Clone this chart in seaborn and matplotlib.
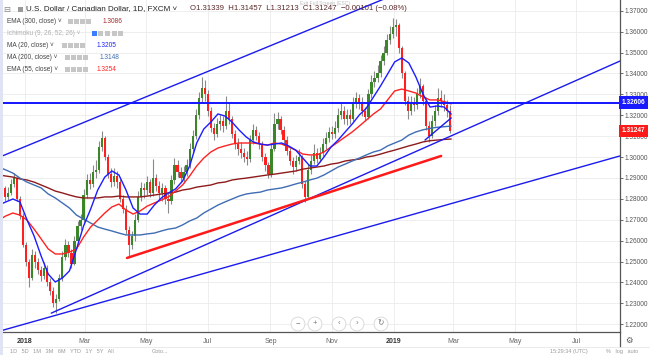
import numpy as np
import pandas as pd
import matplotlib
matplotlib.use("Agg")
import matplotlib.pyplot as plt
import matplotlib.transforms as mtransforms
from matplotlib.patches import Rectangle
from matplotlib.lines import Line2D
import seaborn as sns

# USD/CAD candles, one candle per 3 calendar days, 2017-12-06 .. 2019-02-26
bar_start = "2017-12-06"
first_open = 1.2830
close_px = [
    1.2840, 1.2850, 1.2810, 1.2830, 1.2870, 1.2900, 1.2800, 1.2720, 1.2580, 1.2500,
    1.2420, 1.2530, 1.2500, 1.2460, 1.2430, 1.2470, 1.2400, 1.2360, 1.2300, 1.2320,
    1.2420, 1.2520, 1.2580, 1.2540, 1.2490, 1.2600, 1.2670, 1.2700, 1.2820, 1.2890,
    1.2870, 1.2930, 1.2940, 1.3050, 1.3090, 1.3000, 1.2920, 1.2880, 1.2910, 1.2880,
    1.2800, 1.2750, 1.2650, 1.2580, 1.2620, 1.2700, 1.2810, 1.2850, 1.2840, 1.2880,
    1.2830, 1.2900, 1.2860, 1.2830, 1.2850, 1.2800, 1.2790, 1.2890, 1.2960, 1.2930,
    1.2900, 1.2930, 1.2960, 1.3040, 1.3100, 1.3200, 1.3280, 1.3330, 1.3300, 1.3220,
    1.3140, 1.3110, 1.3160, 1.3170, 1.3150, 1.3220, 1.3180, 1.3110, 1.3060, 1.3040,
    1.3020, 1.3000, 1.2990, 1.3080, 1.3130, 1.3100, 1.3060, 1.3000, 1.2960, 1.2920,
    1.3040, 1.3160, 1.3180, 1.3130, 1.3080, 1.3030, 1.2980, 1.2950, 1.2980, 1.3000,
    1.2870, 1.2810, 1.2940, 1.2980, 1.3020, 1.2990, 1.3020, 1.3060, 1.3090, 1.3120,
    1.3110, 1.3140, 1.3200, 1.3220, 1.3180, 1.3200, 1.3180, 1.3260, 1.3280, 1.3260,
    1.3220, 1.3190, 1.3300, 1.3360, 1.3380, 1.3400, 1.3460, 1.3500, 1.3560, 1.3590,
    1.3620, 1.3630, 1.3520, 1.3400, 1.3270, 1.3220, 1.3260, 1.3250, 1.3300, 1.3340,
    1.3270, 1.3150, 1.3100, 1.3170, 1.3220, 1.3280, 1.3270, 1.3250, 1.3220, 1.31247,
]
high_px = [
    1.2868, 1.2880, 1.2862, 1.2858, 1.2895, 1.2922, 1.2905, 1.2812, 1.2730, 1.2592,
    1.2512, 1.2560, 1.2548, 1.2515, 1.2480, 1.2500, 1.2482, 1.2420, 1.2378, 1.2345,
    1.2440, 1.2548, 1.2610, 1.2598, 1.2560, 1.2622, 1.2695, 1.2728, 1.2848, 1.2918,
    1.2925, 1.2962, 1.2985, 1.3075, 1.3125, 1.3100, 1.3012, 1.2945, 1.2945, 1.2932,
    1.2895, 1.2820, 1.2768, 1.2668, 1.2645, 1.2725, 1.2835, 1.2880, 1.2878, 1.2910,
    1.2895, 1.2990, 1.2918, 1.2885, 1.2878, 1.2868, 1.2830, 1.2915, 1.2995, 1.2985,
    1.2950, 1.2958, 1.2990, 1.3068, 1.3130, 1.3230, 1.3310, 1.3385, 1.3370, 1.3320,
    1.3240, 1.3165, 1.3185, 1.3200, 1.3195, 1.3290, 1.3265, 1.3195, 1.3128, 1.3090,
    1.3070, 1.3045, 1.3030, 1.3105, 1.3160, 1.3150, 1.3118, 1.3075, 1.3020, 1.2975,
    1.3065, 1.3210, 1.3215, 1.3195, 1.3148, 1.3100, 1.3045, 1.3000, 1.3010, 1.3040,
    1.3010, 1.2885, 1.2965, 1.3010, 1.3060, 1.3045, 1.3050, 1.3090, 1.3120, 1.3145,
    1.3150, 1.3170, 1.3235, 1.3262, 1.3245, 1.3228, 1.3230, 1.3285, 1.3310, 1.3300,
    1.3285, 1.3240, 1.3325, 1.3390, 1.3410, 1.3440, 1.3490, 1.3530, 1.3590, 1.3625,
    1.3665, 1.3662, 1.3640, 1.3530, 1.3410, 1.3290, 1.3290, 1.3285, 1.3330, 1.3380,
    1.3350, 1.3285, 1.3170, 1.3200, 1.3250, 1.3330, 1.3320, 1.3300, 1.3275, 1.3250,
]
low_px = [
    1.2808, 1.2825, 1.2790, 1.2795, 1.2820, 1.2858, 1.2788, 1.2705, 1.2568, 1.2478,
    1.2378, 1.2410, 1.2470, 1.2440, 1.2405, 1.2418, 1.2385, 1.2340, 1.2280, 1.2255,
    1.2310, 1.2405, 1.2505, 1.2520, 1.2468, 1.2485, 1.2585, 1.2652, 1.2690, 1.2805,
    1.2845, 1.2855, 1.2900, 1.2925, 1.3030, 1.2985, 1.2900, 1.2855, 1.2862, 1.2850,
    1.2785, 1.2730, 1.2632, 1.2528, 1.2560, 1.2600, 1.2690, 1.2790, 1.2805, 1.2820,
    1.2808, 1.2815, 1.2838, 1.2800, 1.2790, 1.2775, 1.2730, 1.2775, 1.2870, 1.2905,
    1.2880, 1.2875, 1.2910, 1.2945, 1.3020, 1.3085, 1.3180, 1.3260, 1.3270, 1.3195,
    1.3120, 1.3080, 1.3095, 1.3130, 1.3120, 1.3135, 1.3160, 1.3090, 1.3040, 1.3010,
    1.2995, 1.2975, 1.2960, 1.2975, 1.3060, 1.3080, 1.3040, 1.2980, 1.2935, 1.2900,
    1.2905, 1.3030, 1.3135, 1.3110, 1.3060, 1.3010, 1.2960, 1.2920, 1.2935, 1.2965,
    1.2850, 1.2785, 1.2800, 1.2920, 1.2965, 1.2970, 1.2975, 1.3005, 1.3040, 1.3070,
    1.3085, 1.3090, 1.3120, 1.3180, 1.3160, 1.3155, 1.3160, 1.3170, 1.3235, 1.3230,
    1.3195, 1.3170, 1.3180, 1.3280, 1.3335, 1.3360, 1.3385, 1.3440, 1.3490, 1.3540,
    1.3570, 1.3580, 1.3500, 1.3380, 1.3250, 1.3180, 1.3200, 1.3220, 1.3230, 1.3280,
    1.3250, 1.3130, 1.3070, 1.3090, 1.3150, 1.3200, 1.3240, 1.3220, 1.3190, 1.3115,
]

# indicator lines, read weekly from 2017-12-06
ma_start = "2017-12-06"
ma20 = [
    1.2770, 1.2785, 1.2799, 1.2785, 1.2699, 1.2622, 1.2526, 1.2440, 1.2402, 1.2421,
    1.2455, 1.2560, 1.2670, 1.2751, 1.2842, 1.2904, 1.2933, 1.2914, 1.2842, 1.2756,
    1.2727, 1.2727, 1.2770, 1.2804, 1.2828, 1.2847, 1.2885, 1.2957, 1.3067, 1.3134,
    1.3167, 1.3206, 1.3196, 1.3167, 1.3129, 1.3096, 1.3072, 1.3062, 1.3057, 1.3062,
    1.3067, 1.3053, 1.3033, 1.2995, 1.2957, 1.2957, 1.3000, 1.3048, 1.3081, 1.3120,
    1.3158, 1.3201, 1.3234, 1.3287, 1.3340, 1.3397, 1.3455, 1.3474, 1.3450, 1.3383,
    1.3301, 1.3239, 1.3244, 1.3239, 1.3205,
]
ema55 = [
    1.2698, 1.2718, 1.2732, 1.2722, 1.2698, 1.2655, 1.2608, 1.2560, 1.2536, 1.2536,
    1.2545, 1.2560, 1.2617, 1.2665, 1.2698, 1.2732, 1.2761, 1.2775, 1.2746, 1.2727,
    1.2742, 1.2765, 1.2780, 1.2794, 1.2809, 1.2837, 1.2866, 1.2909, 1.2957, 1.2995,
    1.3024, 1.3043, 1.3053, 1.3062, 1.3067, 1.3067, 1.3067, 1.3062, 1.3057, 1.3067,
    1.3062, 1.3048, 1.3033, 1.3014, 1.3010, 1.3010, 1.3024, 1.3048, 1.3072, 1.3096,
    1.3120, 1.3148, 1.3177, 1.3206, 1.3230, 1.3273, 1.3316, 1.3325, 1.3316, 1.3306,
    1.3287, 1.3273, 1.3273, 1.3265, 1.3254,
]
ma200 = [
    1.2952, 1.2938, 1.2923, 1.2899, 1.2880, 1.2866, 1.2852, 1.2823, 1.2804, 1.2780,
    1.2756, 1.2722, 1.2703, 1.2684, 1.2665, 1.2655, 1.2646, 1.2636, 1.2627, 1.2627,
    1.2627, 1.2632, 1.2636, 1.2646, 1.2655, 1.2660, 1.2675, 1.2694, 1.2708, 1.2732,
    1.2751, 1.2770, 1.2785, 1.2799, 1.2813, 1.2823, 1.2828, 1.2832, 1.2842, 1.2847,
    1.2852, 1.2861, 1.2871, 1.2880, 1.2890, 1.2899, 1.2914, 1.2933, 1.2952, 1.2966,
    1.2981, 1.2995, 1.3010, 1.3024, 1.3033, 1.3053, 1.3067, 1.3081, 1.3105, 1.3120,
    1.3130, 1.3137, 1.3142, 1.3145, 1.3148,
]
ema300 = [
    1.2914, 1.2909, 1.2904, 1.2895, 1.2890, 1.2880, 1.2866, 1.2852, 1.2837, 1.2828,
    1.2818, 1.2809, 1.2804, 1.2804, 1.2804, 1.2809, 1.2809, 1.2813, 1.2809, 1.2809,
    1.2809, 1.2813, 1.2818, 1.2823, 1.2828, 1.2832, 1.2842, 1.2847, 1.2856, 1.2861,
    1.2866, 1.2876, 1.2880, 1.2890, 1.2895, 1.2899, 1.2904, 1.2909, 1.2914, 1.2918,
    1.2923, 1.2928, 1.2933, 1.2942, 1.2947, 1.2952, 1.2957, 1.2966, 1.2971, 1.2981,
    1.2986, 1.2990, 1.3000, 1.3005, 1.3014, 1.3024, 1.3033, 1.3043, 1.3053, 1.3062,
    1.3072, 1.3078, 1.3081, 1.3084, 1.3086,
]

# hand-drawn trend lines (date, price)
trend_upper = [("2017-12-07", 1.3000), ("2018-12-28", 1.3767)]
trend_mid = [("2018-01-27", 1.2253), ("2019-08-13", 1.3459)]
trend_low = [("2017-12-07", 1.2167), ("2019-08-13", 1.3005)]
trend_red = [("2018-04-12", 1.2517), ("2019-02-17", 1.3005)]
trend_short = [("2019-02-01", 1.3081), ("2019-02-27", 1.3187)]
hline_level = 1.32606
last_price = 1.31247

x_ticks = ["2018-01-01", "2018-03-01", "2018-05-01", "2018-07-01", "2018-09-01",
           "2018-11-01", "2019-01-01", "2019-03-01", "2019-05-01", "2019-07-01"]
x_labels = ["2018", "Mar", "May", "Jul", "Sep", "Nov", "2019", "Mar", "May", "Jul"]
y_ticks = [1.22, 1.23, 1.24, 1.25, 1.26, 1.27, 1.28, 1.29, 1.30,
           1.31, 1.32, 1.33, 1.34, 1.35, 1.36, 1.37]

sns.set_style("white")
plt.rcParams["font.family"] = ["Liberation Sans", "DejaVu Sans"]

W, H = 650, 355
fig = plt.figure(figsize=(W / 100, H / 100), dpi=100)
ax = fig.add_axes([0, 1 - 332 / H, 620 / W, 332 / H])


def fx(px):
    return px / W


def fy(py):
    return 1 - py / H


# candles
dates = pd.date_range(bar_start, periods=len(close_px), freq="3D")
c = np.array(close_px)
o = np.array([first_open] + close_px[:-1])
up = c >= o
ax.vlines(dates, low_px, high_px, color="#8a8a8a", lw=0.8, zorder=2)
ax.bar(dates, np.maximum(np.abs(c - o), 0.0004), bottom=np.minimum(o, c), width=2.2,
       color=np.where(up, "#3b8629", "#ff1f1f"), lw=0, zorder=3)

# moving averages
ma = pd.DataFrame({"date": pd.date_range(ma_start, periods=len(ma20), freq="7D"),
                   "ema300": ema300, "ma200": ma200, "ema55": ema55, "ma20": ma20})
for col, color in [("ema300", "#8e1b1b"), ("ma200", "#3f6db3"),
                   ("ema55", "#ff2222"), ("ma20", "#1c1cff")]:
    sns.lineplot(data=ma, x="date", y=col, ax=ax, color=color, lw=1.0, zorder=4)


def tline(pts, color, lw):
    ax.plot(pd.to_datetime([p[0] for p in pts]), [p[1] for p in pts],
            color=color, lw=lw, zorder=5)


tline(trend_upper, "#1a1aee", 1.0)
tline(trend_mid, "#1a1aee", 1.0)
tline(trend_low, "#1a1aee", 1.0)
tline(trend_short, "#1a1aee", 1.0)
tline(trend_red, "#ff1a1a", 1.8)
ax.axhline(hline_level, color="#1414ff", lw=1.4, zorder=5)

ax.set_xlim(pd.Timestamp("2017-12-07 06:00"), pd.Timestamp("2019-08-13 02:00"))
ax.set_ylim(1.21627, 1.37512)
ax.set_xlabel("")
ax.set_ylabel("")

ax.set_yticks(y_ticks)
ax.set_yticklabels([f"{t:.5f}" for t in y_ticks])
ax.tick_params(axis="y", left=False, right=True, labelleft=False, labelright=True,
               length=2.5, width=0.6, color="#555555", labelcolor="#555555",
               labelsize=4.7, pad=1)
ax.set_xticks(pd.to_datetime(x_ticks))
ax.set_xticklabels(x_labels)
ax.tick_params(axis="x", length=0, labelsize=5, labelcolor="#666666", pad=4.5)
for lab in ax.get_xticklabels():
    if lab.get_text() in ("2018", "2019"):
        lab.set_fontweight("bold")
        lab.set_color("#333333")

ax.grid(True, color="#ebebeb", lw=0.6)
ax.set_axisbelow(True)
for s in ["top", "left"]:
    ax.spines[s].set_visible(False)
for s in ["right", "bottom"]:
    ax.spines[s].set_color("#555555")
    ax.spines[s].set_linewidth(0.9)

# price labels on the scale
trans = mtransforms.blended_transform_factory(ax.transAxes, ax.transData)
for level, bg in [(hline_level, "#1a1aff"), (last_price, "#ff1a1a")]:
    ax.text(1.003, level, f"{level:.5f}", transform=trans, ha="left", va="center",
            fontsize=4.7, color="white", fontweight="bold", clip_on=False, zorder=10,
            bbox=dict(boxstyle="square,pad=0.4", fc=bg, ec="none"))

# header
fig.text(fx(3), fy(9), "\u229f", fontsize=6, color="#888888", va="center",
         family="DejaVu Sans")
fig.add_artist(Rectangle((fx(18), fy(11.5)), 5 / W, 5 / H, transform=fig.transFigure,
                         fc="#9a9a9a", ec="none"))
fig.text(fx(26), fy(9), "U.S. Dollar / Canadian Dollar, 1D, FXCM \u02c5", fontsize=5.8,
         color="#222222", va="center")
fig.text(fx(190), fy(9), "O1.31339  H1.31457  L1.31213  C1.31247  \u22120.00101 (\u22120.08%)",
         fontsize=5.6, color="#5b2a2a", va="center")
fig.text(fx(300), fy(3), "Exit Full Screen (ESC)", fontsize=3.6, color="#bdbdbd",
         va="center")

rows = [
    ("EMA (300, close) \u02c5", "#444444", 21.7, [68, 74, 80, 86], None, "1.3086", 103, "#a52a2a"),
    ("Ichimoku (9, 26, 52, 26) \u02c5", "#b0b0b0", 33.7, [92, 98, 105, 112, 118], "#3a7fff", None, 0, None),
    ("MA (20, close) \u02c5", "#444444", 45.7, [62, 68, 74, 80], None, "1.3205", 97, "#2020ff"),
    ("MA (200, close) \u02c5", "#444444", 57.7, [65, 71, 77, 83], None, "1.3148", 100, "#3f6db3"),
    ("EMA (55, close) \u02c5", "#444444", 69.7, [65, 71, 77, 83], None, "1.3254", 97, "#ff2222"),
]
for label, col, yy, icons, first_icon, val, vx, vcol in rows:
    fig.text(fx(7), fy(yy), label, fontsize=4.7, color=col, va="center")
    for j, ix in enumerate(icons):
        fc = first_icon if (first_icon and j == 0) else "#c6c6c6"
        fig.add_artist(Rectangle((fx(ix), fy(yy + 2.5)), 5 / W, 5 / H,
                                 transform=fig.transFigure, fc=fc, ec="none"))
    if val:
        fig.text(fx(vx), fy(yy), val, fontsize=4.7, color=vcol, va="center")

# navigation buttons
for bx, sym in [(298, "\u2212"), (315, "+"), (339, "\u2039"), (357, "\u203a"), (381, "\u21bb")]:
    fig.text(fx(bx), fy(324), sym, fontsize=5.5, color="#777777", ha="center", va="center",
             bbox=dict(boxstyle="circle,pad=0.45", fc="white", ec="#d6d6d6", lw=0.6))

# bottom strip
fig.add_artist(Rectangle((0, 0), 3 / W, 1, transform=fig.transFigure, fc="#dfe3f3", ec="none"))
fig.add_artist(Line2D([fx(620), fx(620)], [fy(332), fy(347)], transform=fig.transFigure,
                      color="#555555", lw=0.9))
fig.add_artist(Line2D([0, 1], [fy(347), fy(347)], transform=fig.transFigure,
                      color="#e6e6e6", lw=0.6))
fig.text(fx(629), fy(340), "\u2699", fontsize=6, color="#555555", ha="center", va="center",
         family="DejaVu Sans")
fig.text(fx(10), fy(351.5), "1D   5D   1M   3M   6M   YTD   1Y   5Y   All", fontsize=4.0,
         color="#9a9a9a", va="center")
fig.text(fx(152), fy(351.5), "Goto...", fontsize=4.0, color="#9a9a9a", va="center")
fig.text(fx(550), fy(351.5), "15:29:34 (UTC)", fontsize=4.0, color="#9a9a9a", va="center")
fig.text(fx(606), fy(351.5), "%   log   auto", fontsize=4.0, color="#9a9a9a", va="center")

fig.savefig("out.png", dpi=100)
